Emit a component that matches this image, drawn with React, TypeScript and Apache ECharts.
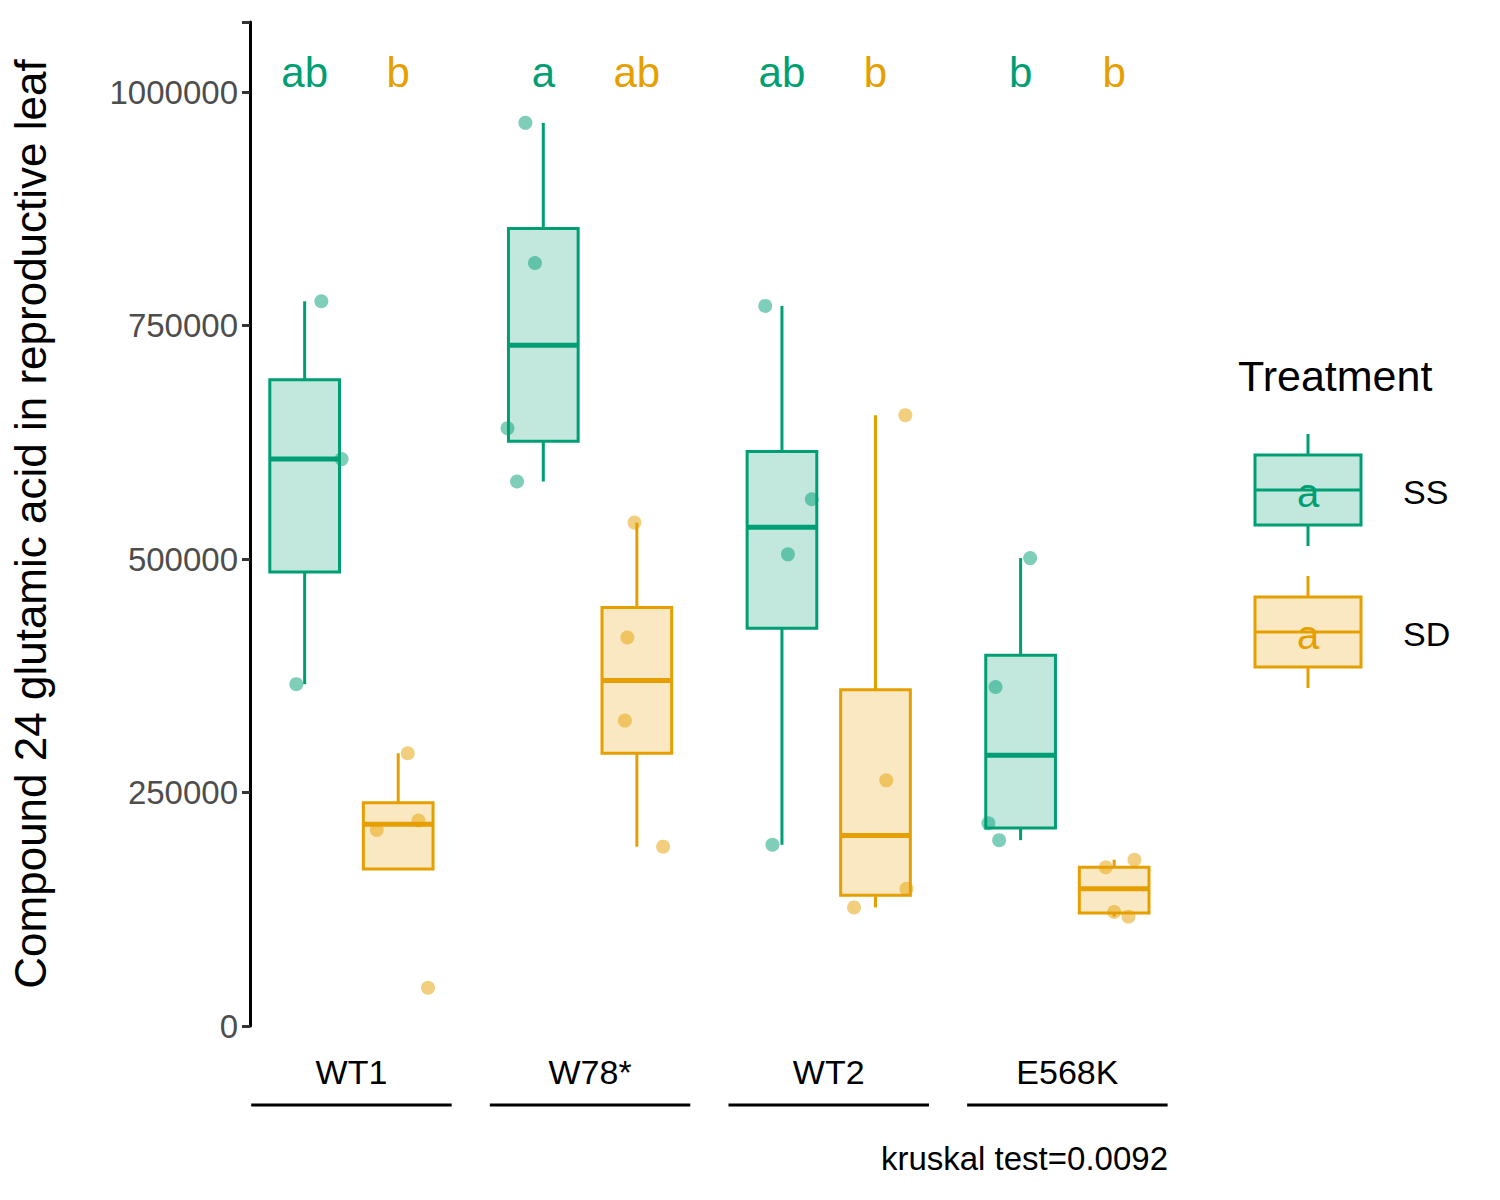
import React, { useRef, useEffect } from 'react'
import * as echarts from 'echarts'

const genotypes = ['WT1', 'W78*', 'WT2', 'E568K']
const treatments = ['SS', 'SD']
const strokeColors = ['#009E73', '#E69F00']
const fillColors = ['rgba(0,158,115,0.24)', 'rgba(230,159,0,0.24)']
const pointColors = ['rgba(0,158,115,0.5)', 'rgba(230,159,0,0.5)']

// [low whisker, Q1, median, Q3, high whisker] per genotype
const ssBoxes = [
  [366000, 486000, 607000, 692000, 776000],
  [583000, 626000, 729000, 854000, 967000],
  [194000, 426000, 534000, 615000, 771000],
  [199000, 212000, 290000, 397000, 501000],
]
const sdBoxes = [
  [168000, 168000, 216000, 239000, 292000],
  [192000, 292000, 370000, 448000, 539000],
  [127000, 140000, 204000, 360000, 654000],
  [117000, 121000, 147000, 170000, 178000],
]

// raw points: values and horizontal jitter (category units)
const ssPoints = [
  [776000, 607000, 366000],
  [967000, 817000, 640000, 583000],
  [771000, 564000, 505000, 194000],
  [501000, 363000, 217000, 199000],
]
const ssJitter = [
  [0.07, 0.155, -0.035],
  [-0.075, -0.035, -0.15, -0.11],
  [-0.07, 0.125, 0.025, -0.04],
  [0.04, -0.105, -0.135, -0.09],
]
const sdPoints = [
  [292000, 210000, 220000, 41000],
  [539000, 416000, 327000, 192000],
  [654000, 263000, 147000, 127000],
  [178000, 170000, 122000, 117000],
]
const sdJitter = [
  [0.04, -0.09, 0.085, 0.125],
  [-0.01, -0.04, -0.05, 0.11],
  [0.125, 0.045, 0.13, -0.09],
  [0.085, -0.035, 0, 0.06],
]

const ssLetters = ['ab', 'a', 'ab', 'b']
const sdLetters = ['b', 'ab', 'b', 'b']
const letterY = 1021000

const yTicks = [0, 250000, 500000, 750000, 1000000]
const dodge = 0.196
const halfBox = 0.146

const FONT = 'Liberation Sans'

const App: React.FC = () => {
  const chartRef = useRef<HTMLDivElement>(null)

  useEffect(() => {
    if (!chartRef.current) return
    const chart = echarts.init(chartRef.current, undefined, { renderer: 'svg' })

    const boxSeries = (boxes: number[][], t: number) => ({
      type: 'custom',
      data: boxes.map((b, i) => [i + 1 + (t === 0 ? -dodge : dodge), ...b]),
      z: 2,
      renderItem: (params: any, api: any) => {
        const x = api.value(0)
        const [lo, q1, md, q3, hi] = [1, 2, 3, 4, 5].map(k => api.value(k))
        const left = api.coord([x - halfBox, 0])[0]
        const right = api.coord([x + halfBox, 0])[0]
        const cx = api.coord([x, 0])[0]
        const py = (v: number) => api.coord([x, v])[1]
        const stroke = strokeColors[t]
        return {
          type: 'group',
          children: [
            { type: 'line', shape: { x1: cx, y1: py(hi), x2: cx, y2: py(q3) }, style: { stroke, lineWidth: 3 } },
            { type: 'line', shape: { x1: cx, y1: py(q1), x2: cx, y2: py(lo) }, style: { stroke, lineWidth: 3 } },
            { type: 'rect', shape: { x: left, y: py(q3), width: right - left, height: py(q1) - py(q3) }, style: { fill: fillColors[t], stroke, lineWidth: 3 } },
            { type: 'line', shape: { x1: left, y1: py(md), x2: right, y2: py(md) }, style: { stroke, lineWidth: 5 } },
          ],
        }
      },
    })

    const pointSeries = (pts: number[][], jit: number[][], t: number) => ({
      type: 'scatter',
      symbolSize: 14,
      z: 3,
      itemStyle: { color: pointColors[t], opacity: 1 },
      data: pts.flatMap((g, i) => g.map((v, j) => [i + 1 + (t === 0 ? -dodge : dodge) + jit[i][j], v])),
    })

    const letterSeries = (letters: string[], t: number) => ({
      type: 'scatter',
      symbolSize: 0,
      z: 4,
      itemStyle: { opacity: 1 },
      data: letters.map((l, i) => ({ value: [i + 1 + (t === 0 ? -dodge : dodge), letterY], name: l })),
      label: {
        show: true,
        position: 'inside',
        formatter: (p: any) => p.name,
        color: strokeColors[t],
        opacity: 1,
        fontSize: 42,
        fontFamily: FONT,
      },
    })

    const axisLabelSeries = {
      type: 'custom',
      data: genotypes.map((g, i) => [i + 1, 0]),
      clip: false,
      renderItem: (params: any, api: any) => {
        const x = api.value(0)
        const p = api.coord([x, 0])
        const l = api.coord([x - 0.42, 0])[0]
        const r = api.coord([x + 0.42, 0])[0]
        return {
          type: 'group',
          children: [
            { type: 'text', x: p[0], y: p[1] + 46, style: { text: genotypes[params.dataIndex], fontSize: 34, fontFamily: FONT, fill: '#000', align: 'center', verticalAlign: 'middle' } },
            { type: 'line', shape: { x1: l, y1: p[1] + 79, x2: r, y2: p[1] + 79 }, style: { stroke: '#000', lineWidth: 3 } },
          ],
        }
      },
    }

    const legendKey = (t: number, top: number) => {
      const stroke = strokeColors[t]
      return [
        { type: 'line', shape: { x1: 1308, y1: top - 21, x2: 1308, y2: top }, style: { stroke, lineWidth: 3 } },
        { type: 'line', shape: { x1: 1308, y1: top + 70, x2: 1308, y2: top + 91 }, style: { stroke, lineWidth: 3 } },
        { type: 'rect', shape: { x: 1255, y: top, width: 106, height: 70 }, style: { fill: fillColors[t], stroke, lineWidth: 3 } },
        { type: 'line', shape: { x1: 1255, y1: top + 35, x2: 1361, y2: top + 35 }, style: { stroke, lineWidth: 3 } },
        { type: 'text', x: 1308, y: top + 38, style: { text: 'a', fontSize: 40, fontFamily: FONT, fill: stroke, align: 'center', verticalAlign: 'middle' } },
        { type: 'text', x: 1403, y: top + 37, style: { text: treatments[t], fontSize: 34, fontFamily: FONT, fill: '#000', verticalAlign: 'middle' } },
      ]
    }

    chart.setOption({
      animation: false,
      grid: { left: 245, right: 330, top: 22, bottom: 174 },
      xAxis: { type: 'value', min: 0.575, max: 4.43, show: false },
      yAxis: {
        type: 'value',
        min: 0,
        max: 1075000,
        interval: 250000,
        axisLine: { show: true, lineStyle: { color: '#000', width: 3 } },
        axisTick: { show: true, length: 8, lineStyle: { color: '#333', width: 3 } },
        axisLabel: {
          color: '#4d4d4d',
          fontSize: 33,
          fontFamily: FONT,
          margin: 12,
          formatter: (v: number) => (yTicks.includes(v) ? String(v) : ''),
        },
        splitLine: { show: false },
        name: 'Compound 24 glutamic acid in reproductive leaf',
        nameLocation: 'middle',
        nameGap: 198,
        nameTextStyle: { fontSize: 44, fontFamily: FONT, color: '#000' },
      },
      graphic: [
        { type: 'text', left: 1238, top: 354, style: { text: 'Treatment', fontSize: 43, fontFamily: FONT, fill: '#000' } },
        ...legendKey(0, 455),
        ...legendKey(1, 597),
        { type: 'text', x: 1168, y: 1158, style: { text: 'kruskal test=0.0092', fontSize: 33, fontFamily: FONT, fill: '#000', align: 'right', verticalAlign: 'middle' } },
      ],
      series: [
        boxSeries(ssBoxes, 0),
        boxSeries(sdBoxes, 1),
        pointSeries(ssPoints, ssJitter, 0),
        pointSeries(sdPoints, sdJitter, 1),
        letterSeries(ssLetters, 0),
        letterSeries(sdLetters, 1),
        axisLabelSeries,
      ],
    })

    return () => chart.dispose()
  }, [])

  return <div ref={chartRef} style={{ width: 1500, height: 1200, margin: -8 }} />
}

export default App
